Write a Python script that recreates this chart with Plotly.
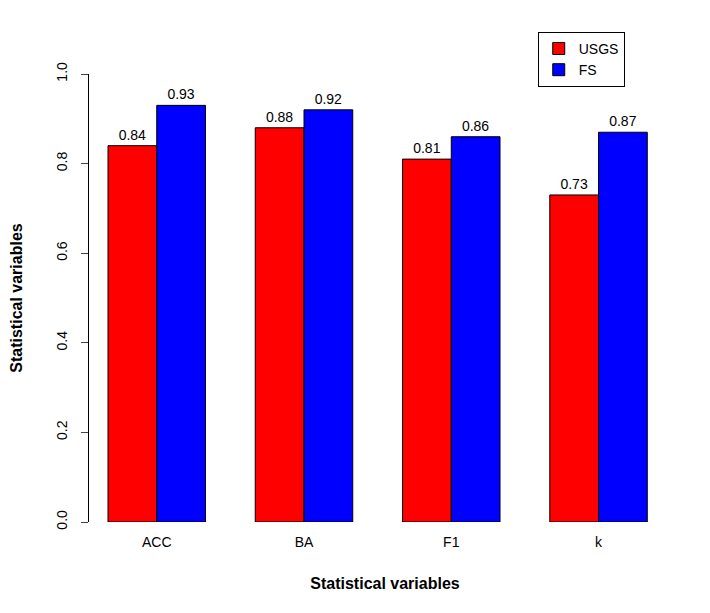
import plotly.graph_objects as go

categories = ["ACC", "BA", "F1", "k"]
usgs = [0.84, 0.88, 0.81, 0.73]
fs = [0.93, 0.92, 0.86, 0.87]
yticks = [0.0, 0.2, 0.4, 0.6, 0.8, 1.0]

fig = go.Figure()
for name, vals, col in [("USGS", usgs, "#ff0000"), ("FS", fs, "#0000ff")]:
    fig.add_trace(go.Bar(x=categories, y=vals, name=name,
                         marker=dict(color=col, line=dict(color="black", width=1)),
                         text=[f"{v:.2f}" for v in vals], textposition="outside",
                         textfont=dict(color="black", size=14, family="Arial"),
                         cliponaxis=False))

fig.update_layout(
    width=710, height=613, barmode="group", bargap=0.338, bargroupgap=0,
    plot_bgcolor="white", paper_bgcolor="white",
    margin=dict(l=81, r=37, t=66, b=99),
    font=dict(family="Arial", size=14, color="black"),
    legend=dict(x=0.758, y=1.094, xanchor="left", yanchor="top",
                bordercolor="black", borderwidth=1, font=dict(size=14),
                tracegroupgap=0),
    xaxis=dict(range=[-0.46, 3.56], showline=False, ticks="", showgrid=False,
               ticklabelstandoff=10, automargin=False,
               title=dict(text="<b>Statistical variables</b>", standoff=28,
                          font=dict(size=16))),
    yaxis=dict(range=[0, 1], tickvals=yticks, ticktext=[f"{v:.1f}" for v in yticks],
               tickangle=-90, ticks="outside", ticklen=7, showline=True,
               linecolor="black", showgrid=False, zeroline=False,
               ticklabelstandoff=8, automargin=False,
               title=dict(text="<b>Statistical variables</b>", standoff=30,
                          font=dict(size=16))),
)
fig.write_html("out.html")
